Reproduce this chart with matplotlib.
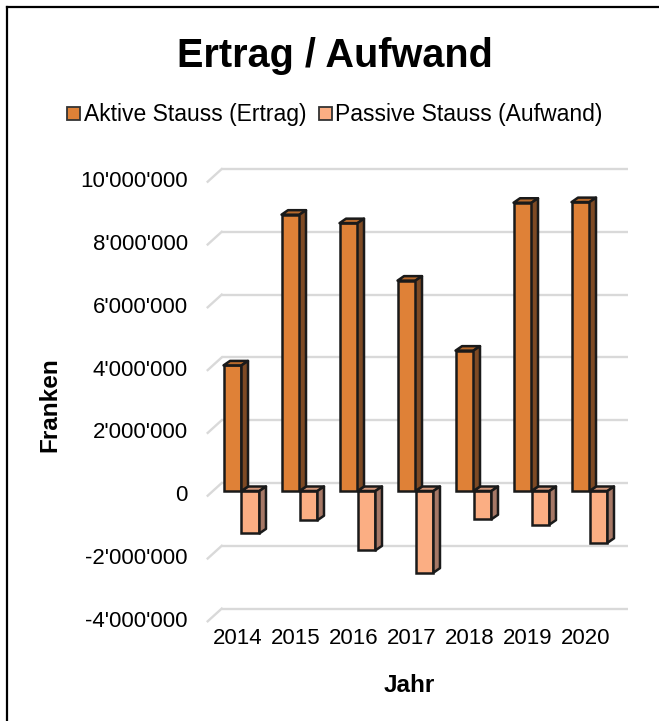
import matplotlib
matplotlib.use("Agg")
import matplotlib.pyplot as plt
from matplotlib import transforms
from matplotlib.patches import Polygon, Rectangle
from matplotlib.lines import Line2D

# ---------------- data ----------------
years = ["2014", "2015", "2016", "2017", "2018", "2019", "2020"]
aktive = [4.0e6, 8.8e6, 8.53e6, 6.7e6, 4.47e6, 9.18e6, 9.2e6]
passive = [-1.35e6, -0.93e6, -1.89e6, -2.6e6, -0.9e6, -1.07e6, -1.65e6]
yticks = [-4e6, -2e6, 0, 2e6, 4e6, 6e6, 8e6, 10e6]
ytick_labels = ["-4'000'000", "-2'000'000", "0", "2'000'000", "4'000'000",
                "6'000'000", "8'000'000", "10'000'000"]
series_names = ["Aktive Stauss (Ertrag)", "Passive Stauss (Aufwand)"]

# ---------------- style ----------------
plt.rcParams['font.family'] = ['Liberation Sans', 'DejaVu Sans']
W, H = 659, 721
DPI = 100
fig = plt.figure(figsize=(W / DPI, H / DPI), dpi=DPI)
fig.patch.set_facecolor('white')

def fx(px):
    return px / W

def fy(py):
    return (H - py) / H

# axes = bar plane
x_left_px, x_right_px = 212.5, 618.5
ylo, yhi = -4.6e6, 10.6e6
px_per_unit_y = 31.4 / 1e6
zero_px = 491
bottom_px = zero_px - ylo * px_per_unit_y
top_px = zero_px - yhi * px_per_unit_y
ax = fig.add_axes([fx(x_left_px), fy(bottom_px), fx(x_right_px) - fx(x_left_px),
                   (bottom_px - top_px) / H])
ax.set_xlim(-0.5, len(years) - 0.5)
ax.set_ylim(ylo, yhi)
ax.axis('off')

def off(dx, dy, base=None):
    return transforms.offset_copy(base if base is not None else ax.transData,
                                  fig=fig, x=dx, y=dy, units='dots')

inv = ax.transData.inverted()

def shift(x, y, dx, dy):
    d = ax.transData.transform((x, y))
    return inv.transform((d[0] + dx, d[1] + dy))

# back wall / front plane offsets (pixels)
BACK = (9.2, 8.0)
FRONT = (-4.8, -4.7)
grid_col = '#D9D9D9'
for v in yticks:
    q0 = shift(-0.5, v, *BACK)
    q1 = shift(len(years) - 0.5, v, *BACK)
    ax.plot([q0[0], q1[0]], [q0[1], q1[1]], color=grid_col, lw=1.7, zorder=1,
            solid_capstyle='butt', clip_on=False)
    p0 = shift(-0.5, v, *FRONT)
    ax.plot([p0[0], q0[0]], [p0[1], q0[1]], color=grid_col, lw=1.7, zorder=1,
            clip_on=False)

# tick labels (front plane)
for v, lab in zip(yticks, ytick_labels):
    ax.text(-0.5, v, lab, transform=off(FRONT[0] - 19.7, FRONT[1]),
            ha='right', va='center', fontsize=16, color='#000000')

blend = transforms.blended_transform_factory(ax.transData, fig.transFigure)
for i, yr in enumerate(years):
    ax.text(i, fy(638), yr, transform=off(-4, 0, blend), ha='center',
            va='center', fontsize=16, color='#000000')

# ---------------- 3D bars ----------------
width = 0.31
depth_dx = 6.5 / (x_right_px - x_left_px) * len(years)
depth_dy = 4.5 / px_per_unit_y
edge = '#1a1a1a'
lw = 1.8

def bar3d(x0, h, front, top, side, z):
    x1 = x0 + width
    ax.bar(x0, h, width=width, align='edge', color=front, edgecolor=edge,
           linewidth=lw, zorder=z, clip_on=False)
    if h >= 0:
        topf = [(x0, h), (x1, h), (x1 + depth_dx, h + depth_dy), (x0 + depth_dx, h + depth_dy)]
        sidef = [(x1, 0), (x1, h), (x1 + depth_dx, h + depth_dy), (x1 + depth_dx, depth_dy)]
    else:
        topf = [(x0, 0), (x1, 0), (x1 + depth_dx, depth_dy), (x0 + depth_dx, depth_dy)]
        sidef = [(x1, h), (x1, 0), (x1 + depth_dx, depth_dy), (x1 + depth_dx, h + depth_dy)]
    ax.add_patch(Polygon(topf, closed=True, facecolor=top, edgecolor=edge,
                         linewidth=lw, zorder=z, joinstyle='round', clip_on=False))
    ax.add_patch(Polygon(sidef, closed=True, facecolor=side, edgecolor=edge,
                         linewidth=lw, zorder=z, joinstyle='round', clip_on=False))

A_front, A_top, A_side = '#DF8137', '#B96A2C', '#7E4A24'
P_front, P_top, P_side = '#FBAE83', '#D4977A', '#A67866'

for i in range(len(years)):
    bar3d(i, passive[i], P_front, P_top, P_side, 2 + i * 0.01)
for i in range(len(years)):
    bar3d(i - width, aktive[i], A_front, A_top, A_side, 3 + i * 0.01)

# ---------------- titles / labels ----------------
fig.text(fx(335), fy(67), "Ertrag / Aufwand", ha='center', va='baseline',
         fontsize=28.5, fontweight='bold', color='#000000')
fig.text(fx(409), fy(686), "Jahr", ha='center', va='center', fontsize=17.5,
         fontweight='bold', color='#000000')
fig.text(fx(50), fy(405), "Franken", ha='center', va='center', rotation=90,
         fontsize=17.5, fontweight='bold', color='#000000')

# legend (manual)
leg_items = [(67, 84, series_names[0], A_front), (319, 335, series_names[1], P_front)]
for mx, tx, name, col in leg_items:
    fig.patches.append(Rectangle((fx(mx), fy(120)), fx(13), 13 / H, transform=fig.transFigure,
                                 facecolor=col, edgecolor='#333333', linewidth=1.3))
    fig.text(fx(tx), fy(121), name, ha='left', va='baseline', fontsize=16.5,
             color='#000000')

# border (top and left visible)
fig.lines.append(Line2D([fx(7), 1.0], [fy(7), fy(7)], transform=fig.transFigure,
                        color='#000000', lw=1.6))
fig.lines.append(Line2D([fx(7), fx(7)], [fy(7), 0.0], transform=fig.transFigure,
                        color='#000000', lw=1.6))

fig.savefig("out.png", dpi=DPI, facecolor='white')
